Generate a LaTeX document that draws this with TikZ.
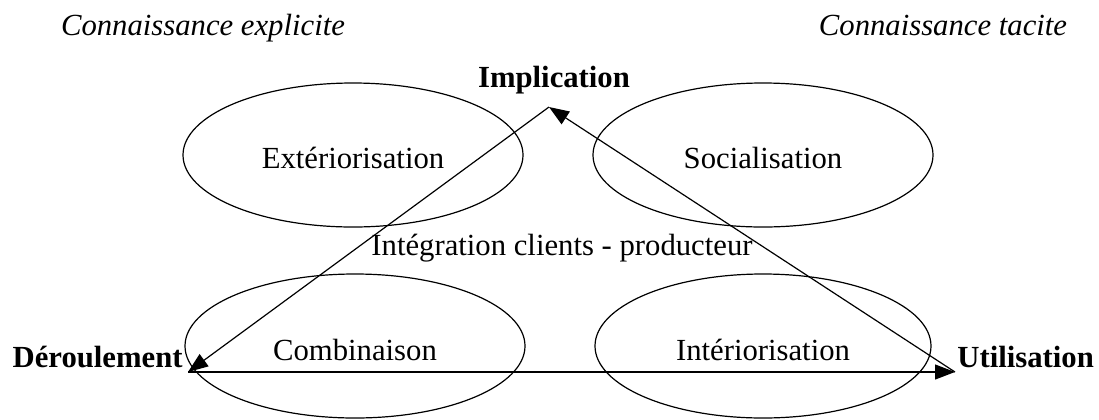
\documentclass[tikz,border=0pt]{standalone}
\usepackage{fontspec}
\setmainfont{Liberation Serif}
\usetikzlibrary{arrows.meta,shapes.geometric}

\begin{document}
\begin{tikzpicture}[x=0.5pt,y=-0.5pt,font=\fontsize{15.35}{18}\selectfont, mode/.style={draw,ellipse,line width=0.6pt,inner sep=0pt,minimum width=170pt,minimum height=72pt}, pole/.style={font=\fontsize{15.35}{18}\selectfont\bfseries,anchor=base,inner sep=0pt}, kind/.style={font=\fontsize{15.35}{18}\selectfont\itshape,anchor=base,inner sep=0pt}, arr/.style={-{Triangle[length=10pt,width=7.5pt]},line width=0.6pt}]
\useasboundingbox (0,0) rectangle (1099,419);
\node[kind] (expl) at (203,35) {Connaissance explicite};
\node[kind] (tac) at (943,35) {Connaissance tacite};
\node[mode] (ext) at (353,155) {};\node[anchor=base,inner sep=0pt] at (353,168) {Extériorisation};
\node[mode] (soc) at (763,155) {};\node[anchor=base,inner sep=0pt] at (763,168) {Socialisation};
\node[mode] (comb) at (355,346) {};\node[anchor=base,inner sep=0pt] at (355,360) {Combinaison};
\node[mode,minimum width=168pt] (inter) at (763,346) {};\node[anchor=base,inner sep=0pt] at (763,360) {Intériorisation};
\node[anchor=base,inner sep=0pt] (integ) at (562,255) {Intégration clients - producteur};
\node[pole] (impl) at (554,87) {Implication};
\node[pole,anchor=base east] (der) at (183,367) {Déroulement};
\node[pole,anchor=base west] (util) at (957,367) {Utilisation};
\coordinate (top) at (549,107);\coordinate (left) at (188,372);\coordinate (right) at (955,372);
\draw[arr](top)--(left);\draw[arr](left)--(right);\draw[arr](right)--(top);
\end{tikzpicture}
\end{document}
